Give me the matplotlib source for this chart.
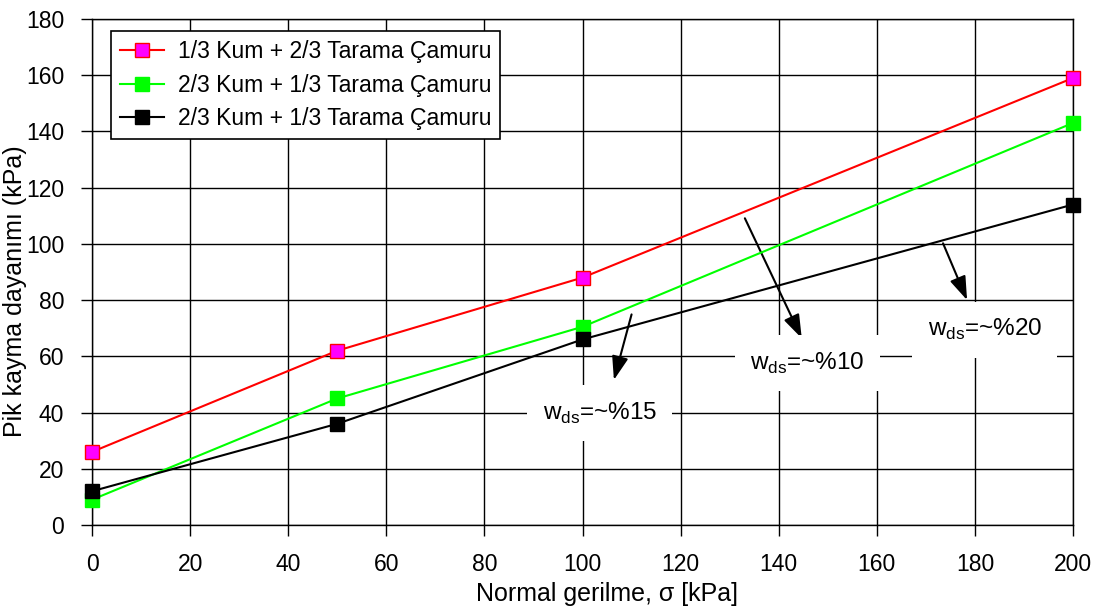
import matplotlib
matplotlib.use('Agg')
import matplotlib.pyplot as plt

plt.rcParams['font.family'] = ['Liberation Sans', 'DejaVu Sans']
plt.rcParams['mathtext.fontset'] = 'custom'
plt.rcParams['mathtext.rm'] = 'Liberation Sans'

sigma = [0, 50, 100, 200]
kum13 = [26, 62, 88, 159]
kum23_a = [9, 45, 70.5, 143]
kum23_b = [12, 36, 66, 114]
labels = ['1/3 Kum + 2/3 Tarama Çamuru',
          '2/3 Kum + 1/3 Tarama Çamuru',
          '2/3 Kum + 1/3 Tarama Çamuru']

# annotation: text, text position, arrow start, arrow tip
notes = [('%15', (103.5, 39.8), (110.0, 74.9), (106.4, 51.6)),
         ('%10', (145.8, 57.6), (133.1, 109.1), (144.7, 66.4)),
         ('%20', (182.0, 69.4), (173.5, 100.2), (178.4, 80.0))]

fig = plt.figure(figsize=(11.02, 6.12), dpi=100)
ax = fig.add_axes([0.0835, 0.1422, 0.8902, 0.8268])

ax.plot(sigma, kum13, color='red', lw=1.5, marker='s', ms=9.5,
        mfc='magenta', mec='red', label=labels[0], clip_on=False, zorder=4)
ax.plot(sigma, kum23_a, color='#00ff00', lw=1.5, marker='s', ms=9.5,
        mfc='#00ff00', mec='#00ff00', label=labels[1], clip_on=False, zorder=4)
ax.plot(sigma, kum23_b, color='black', lw=1.5, marker='s', ms=9.5,
        mfc='black', mec='black', label=labels[2], clip_on=False, zorder=4)

ax.set_xlim(0, 200)
ax.set_ylim(0, 180)
ax.set_xticks(range(0, 201, 20))
ax.set_yticks(range(0, 181, 20))
ax.grid(True, color='black', lw=1)
ax.set_axisbelow(True)
ax.tick_params(labelsize=16.5, direction='out', length=8, width=1, pad=12)
for s in ax.spines.values():
    s.set_color('black')
    s.set_linewidth(1)

ax.set_xlabel('Normal gerilme, σ [kPa]', fontsize=18)
ax.set_ylabel('Pik kayma dayanımı (kPa)', fontsize=18)
ax.xaxis.set_label_coords(0.525, -0.112)
ax.yaxis.set_label_coords(-0.066, 0.4625)

for pct, txt_xy, start, tip in notes:
    ax.annotate('', xy=tip, xytext=start,
                arrowprops=dict(arrowstyle='-|>,head_length=0.72,head_width=0.25',
                                color='black', lw=1.5,
                                mutation_scale=20, shrinkA=0, shrinkB=0))
    ax.text(txt_xy[0], txt_xy[1], r'w$_{\mathregular{ds}}$=~' + pct,
            fontsize=17.5, ha='center', va='center', zorder=3,
            bbox=dict(facecolor='white', edgecolor='none', pad=11))

leg = ax.legend(loc='upper left', bbox_to_anchor=(0.0194, 0.976), borderaxespad=0,
                fontsize=16.5, fancybox=False, framealpha=1, edgecolor='black',
                handlelength=1.9, handletextpad=0.6, borderpad=0.4,
                labelspacing=0.45)
leg.get_frame().set_linewidth(1.2)

plt.savefig('out.png', dpi=100)
